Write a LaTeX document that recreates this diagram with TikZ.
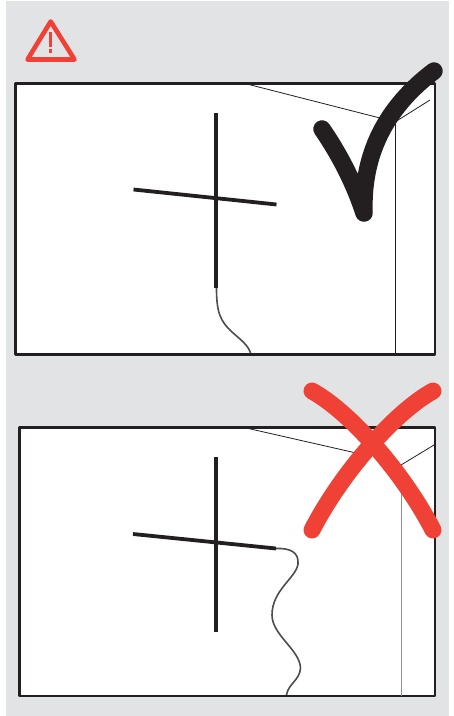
\documentclass[tikz,border=0pt]{standalone}
\definecolor{bggray}{HTML}{E2E3E5}
\definecolor{ink}{HTML}{231F20}
\definecolor{alertred}{HTML}{F04136}
\tikzset{
  frame/.style={draw=ink,line width=2.6pt,fill=white,line join=round},
  thinline/.style={draw=ink,line width=0.8pt},
  cord/.style={draw=ink!80,line width=1.6pt},
  bar/.style={draw=ink,line width=3.8pt},
  tick/.style={draw=ink,line width=17.5pt,line cap=round,line join=round},
  cross/.style={draw=alertred,line width=17pt,line cap=round},
}
\begin{document}
\begin{tikzpicture}[x=1pt,y=-1pt]
\useasboundingbox (0,0) rectangle (454,716);
\fill[bggray] (6,1) rectangle (449,716);
% warning sign
\draw[alertred,line width=4.6pt,line join=round] (50.7,21.5) -- (74.5,59.5) -- (27.5,59.5) -- cycle;
\draw[alertred,line width=2.7pt] (50.7,32) -- (50.7,47);
\draw[alertred,line width=2.7pt] (50.7,48.5) -- (50.7,53);
% upper panel
\draw[frame] (15.5,83.5) rectangle (435,354.5);
\draw[thinline] (243,83) -- (380,118);
\draw[thinline] (395,122) -- (430,100);
\draw[thinline] (395.5,122) -- (395.5,354);
\draw[bar] (216,113) -- (216,288);
\draw[bar] (133.5,189.5) -- (276.5,204.5);
\draw[cord] (216.5,288) .. controls (216.5,312) and (220,321) .. (232,332) .. controls (241,340) and (248,345) .. (250.5,353);
\draw[tick] (322,129) .. controls (340,155) and (355,185) .. (364,213) .. controls (362,155) and (385,108) .. (434,71);
% lower panel
\draw[frame] (19.5,427.5) rectangle (435,696);
\draw[thinline] (244,427.5) -- (365,455);
\draw[thinline] (401,465) -- (434,445);
\draw[thinline,draw=ink!50,line width=1pt] (401,465) -- (401,696);
\draw[bar] (216,457) -- (216,632);
\draw[bar] (133,534) -- (276,548.5);
\draw[cord] (276,548.5) .. controls (290,548) and (299,552) .. (298,564) .. controls (296,578) and (272,590) .. (272,615) .. controls (272,635) and (300,650) .. (300.5,668) .. controls (300,680) and (288,684) .. (286.5,695);
\draw[cross] (312,391) .. controls (350,412) and (403,472) .. (433,530);
\draw[cross] (433,391) .. controls (395,412) and (342,472) .. (312,530);
\end{tikzpicture}
\end{document}
